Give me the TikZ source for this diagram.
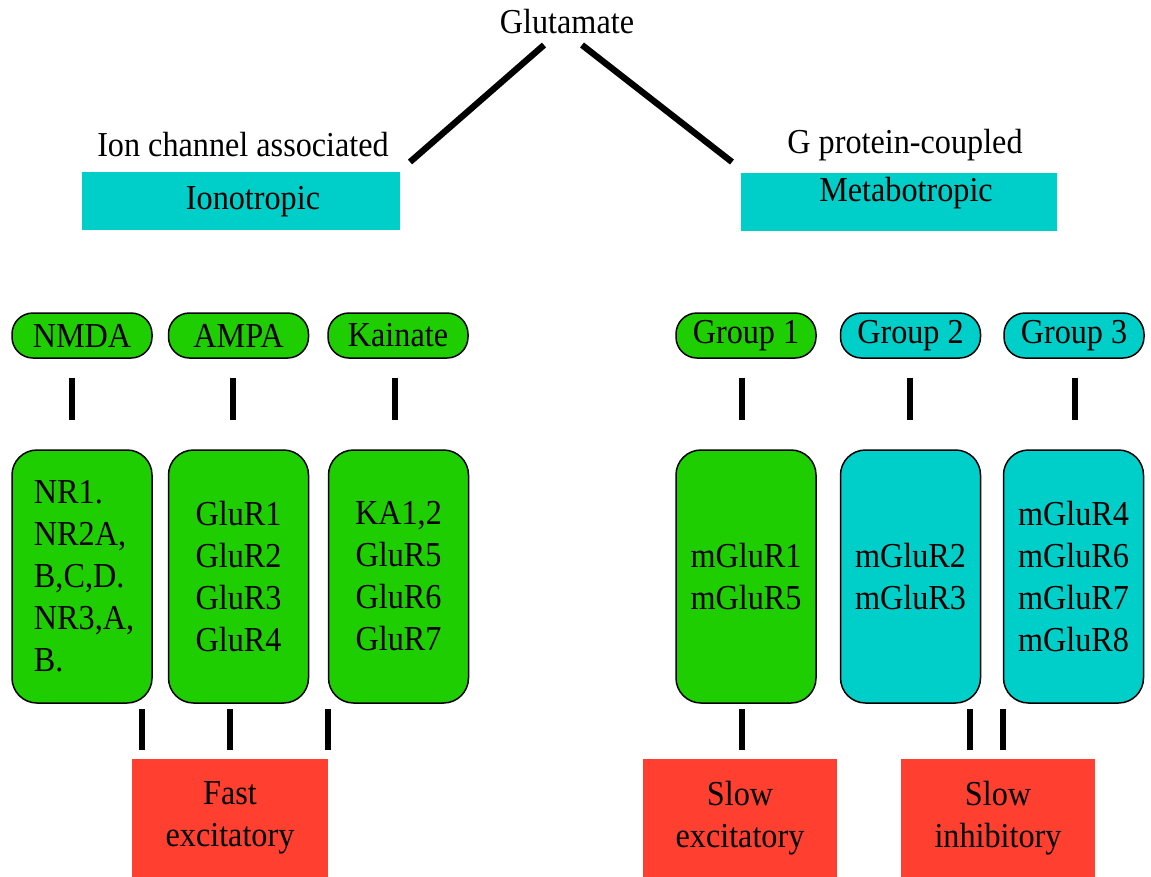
\documentclass[tikz,border=0pt]{standalone}
\usepackage{fontspec}
\setmainfont{Liberation Serif}[FakeStretch=0.92]
\usetikzlibrary{calc}
\definecolor{grn}{RGB}{30,206,0}
\definecolor{tealc}{RGB}{0,206,201}
\definecolor{redc}{RGB}{255,64,48}
\newcommand{\px}{0.6pt}
\begin{document}
\begin{tikzpicture}[x=0.6pt,y=-0.6pt,
  txt/.style={font=\fontsize{21}{25.2}\selectfont, inner sep=0pt},
  pill/.style={txt, draw=black, line width=0.9pt, rounded corners=21*\px, minimum width=140*\px, minimum height=45*\px},
  bigbox/.style={txt, draw=black, line width=0.9pt, rounded corners=25*\px, minimum width=140*\px, minimum height=253*\px, align=center},
  catbox/.style={inner sep=0pt, fill=tealc, minimum height=58*\px},
  effbox/.style={txt, fill=redc, minimum width=195*\px, minimum height=118*\px, align=center},
  bar/.style={line width=3.2pt},
  diag/.style={line width=3.8pt}
]
\useasboundingbox (0,0) rectangle (1151,877);

% top
\node[txt] (glu) at (567,22) {Glutamate};
\node[txt] (ionlab) at (243,145) {Ion channel associated};
\node[txt] (gprlab) at (905,145) {G protein-coupled};
\node[catbox, minimum width=318*\px, label={[txt,xshift=12*\px,yshift=-1*\px]center:Ionotropic}] (iono) at (241,201) {};
\node[catbox, minimum width=316*\px, label={[txt,xshift=7*\px,yshift=8*\px]center:Metabotropic}] (metab) at (899,201.5) {};
\coordinate (gluL) at (544,45);
\coordinate (gluR) at (582,45);
\coordinate (ionoT) at (410,162);
\coordinate (metabT) at (732,162);
\draw[diag] (gluL) -- (ionoT);
\draw[diag] (gluR) -- (metabT);

% pills
\node[pill, fill=grn] (nmda) at (82,335.5) {NMDA};
\node[pill, fill=grn] (ampa) at (238.5,335.5) {AMPA};
\node[pill, fill=grn] (kain) at (398,335.5) {Kainate};
\node[pill, fill=grn] (g1) at (746,335.5) {Group 1};
\node[pill, fill=tealc] (g2) at (910.5,335.5) {Group 2};
\node[pill, fill=tealc] (g3) at (1074,335.5) {Group 3};

% big boxes
\node[bigbox, fill=grn, align=left, text width=96*\px, inner xsep=22*\px] (nmdab) at (82,576.5) {NR1.\\NR2A,\\B,C,D.\\NR3,A,\\B.};
\node[bigbox, fill=grn] (ampab) at (238.5,576.5) {GluR1\\GluR2\\GluR3\\GluR4};
\node[bigbox, fill=grn] (kainb) at (398.5,576.5) {KA1,2\\GluR5\\GluR6\\GluR7};
\node[bigbox, fill=grn] (g1b) at (746,576.5) {mGluR1\\mGluR5};
\node[bigbox, fill=tealc] (g2b) at (910.5,576.5) {mGluR2\\mGluR3};
\node[bigbox, fill=tealc] (g3b) at (1073.5,576.5) {mGluR4\\mGluR6\\mGluR7\\mGluR8};

% effect boxes
\node[effbox, minimum width=196*\px] (fast) at (230,818) {Fast\\excitatory};
\node[effbox, minimum width=194*\px] (slowex) at (740,818) {Slow\\excitatory};
\node[effbox, minimum width=194*\px] (slowin) at (998,818) {Slow\\inhibitory};

% upper bars
\foreach \n/\x in {nmda/72, ampa/233, kain/395, g1/742, g2/910, g3/1075}{
  \coordinate (\n-t) at (\x,378);
  \coordinate (\n-b) at (\x,420);
  \draw[bar] (\n-t) -- (\n-b);
}
% lower bars
\foreach \n/\x in {nmdab/142, ampab/230, kainb/328, g1b/742, g2b/970, g3b/1003}{
  \coordinate (\n-t) at (\x,709);
  \coordinate (\n-b) at (\x,750);
  \draw[bar] (\n-t) -- (\n-b);
}
\end{tikzpicture}
\end{document}
